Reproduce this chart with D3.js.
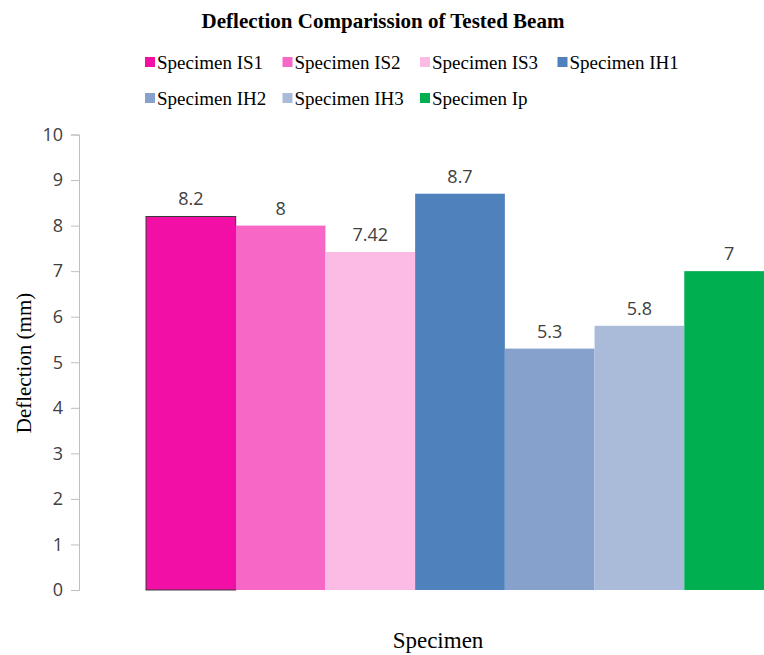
<!DOCTYPE html>
<html>
<head>
<meta charset="utf-8">
<script src="https://cdn.jsdelivr.net/npm/d3@7"></script>
<style>
  body { margin: 0; background: #fff; }
  svg { display: block; }
</style>
</head>
<body>
<div id="chart"></div>
<script>
// chart data
const specimens = ["Specimen IS1", "Specimen IS2", "Specimen IS3", "Specimen IH1", "Specimen IH2", "Specimen IH3", "Specimen Ip"];
const deflections = [8.2, 8, 7.42, 8.7, 5.3, 5.8, 7];
const valueLabels = ["8.2", "8", "7.42", "8.7", "5.3", "5.8", "7"];
const yTicks = [0, 1, 2, 3, 4, 5, 6, 7, 8, 9, 10];
const colors = ["#f20fa6", "#f768c6", "#fbbbe4", "#4f81bd", "#86a2cc", "#aabbd9", "#00b050"];

const W = 764, H = 655;
const serif = "'Liberation Serif', 'Times New Roman', serif";
const sans = "'Open Sans', 'Liberation Sans', sans-serif";

const svg = d3.select("#chart")
    .append("svg")
    .attr("width", W)
    .attr("height", H);

// scales (plot area runs past the right edge, as in the original crop)
const x = d3.scaleBand().domain(specimens).range([146, 774]).padding(0);
const y = d3.scaleLinear().domain([0, 10]).range([590, 134.5]);

// y axis
const yAxis = svg.append("g")
    .attr("transform", "translate(79,0)")
    .call(d3.axisLeft(y).tickValues(yTicks).tickSize(8).tickPadding(8).tickFormat(d3.format("d")));
yAxis.select(".domain").attr("stroke", "#bfbfbf");
yAxis.selectAll(".tick line").attr("stroke", "#bfbfbf");
yAxis.selectAll(".tick text")
    .attr("fill", "#404040")
    .style("font-family", sans)
    .style("font-size", "18px");

// bars
svg.selectAll(".bar")
    .data(deflections)
    .enter().append("rect")
    .attr("class", "bar")
    .attr("x", (d, i) => x(specimens[i]))
    .attr("y", d => y(d))
    .attr("width", x.bandwidth())
    .attr("height", d => y(0) - y(d))
    .attr("fill", (d, i) => colors[i])
    .attr("stroke", (d, i) => i === 0 ? "#3a3a3a" : "none")
    .attr("stroke-width", 1);

// data labels
svg.selectAll(".vlabel")
    .data(deflections)
    .enter().append("text")
    .attr("class", "vlabel")
    .attr("x", (d, i) => x(specimens[i]) + x.bandwidth() / 2)
    .attr("y", d => y(d) - 11)
    .attr("text-anchor", "middle")
    .attr("fill", "#404040")
    .style("font-family", sans)
    .style("font-size", "18px")
    .text((d, i) => valueLabels[i]);

// title
svg.append("text")
    .attr("x", 383)
    .attr("y", 28)
    .attr("text-anchor", "middle")
    .attr("fill", "#000")
    .style("font-family", serif)
    .style("font-weight", "bold")
    .style("font-size", "21px")
    .text("Deflection Comparission of Tested Beam");

// legend: two rows, four per row
const legend = svg.selectAll(".legend")
    .data(specimens)
    .enter().append("g")
    .attr("class", "legend")
    .attr("transform", (d, i) => `translate(${145 + (i % 4) * 137.5},${i < 4 ? 69 : 105})`);

legend.append("rect")
    .attr("x", 0)
    .attr("y", -12)
    .attr("width", 10)
    .attr("height", 10)
    .attr("fill", (d, i) => colors[i]);

legend.append("text")
    .attr("x", 12)
    .attr("y", 0)
    .attr("fill", "#000")
    .style("font-family", serif)
    .style("font-size", "19px")
    .text(d => d);

// axis titles
svg.append("text")
    .attr("transform", "translate(31,363) rotate(-90)")
    .attr("text-anchor", "middle")
    .attr("fill", "#000")
    .style("font-family", serif)
    .style("font-size", "21px")
    .text("Deflection (mm)");

svg.append("text")
    .attr("x", 438)
    .attr("y", 648)
    .attr("text-anchor", "middle")
    .attr("fill", "#000")
    .style("font-family", serif)
    .style("font-size", "23px")
    .text("Specimen");
</script>
</body>
</html>
